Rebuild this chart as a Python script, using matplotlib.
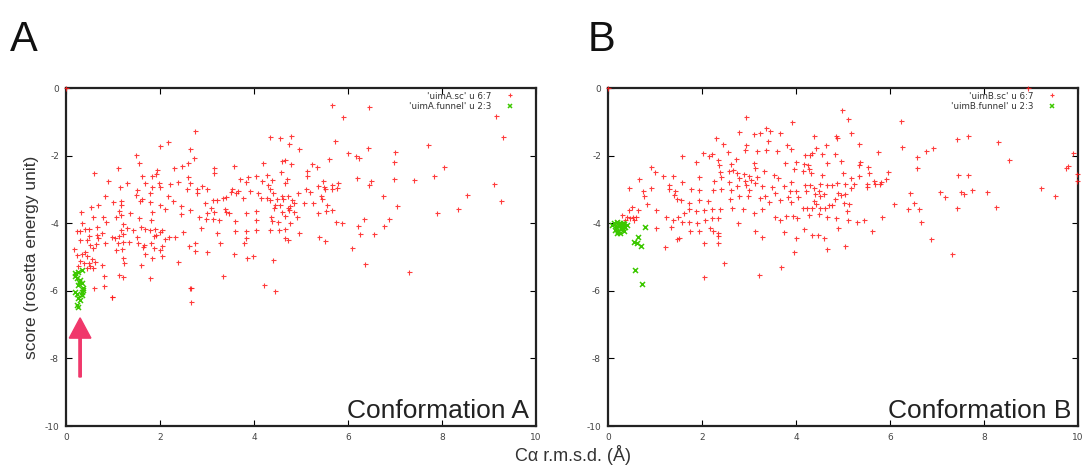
import matplotlib
matplotlib.use("Agg")
import matplotlib.pyplot as plt
from matplotlib.patches import FancyArrow

plt.rcParams["axes.unicode_minus"] = False

# ---------------- Panel A data ----------------
a_sc_x = [0.0,
    2.75, 2.01, 2.18, 2.63, 2.72, 1.49, 1.55, 2.60, 2.47, 2.29, 3.14, 3.14, 3.57, 1.10, 0.59, 0.89,
    1.61, 1.94, 1.83, 1.91, 1.97, 1.69, 1.30, 1.14, 2.60, 2.38, 2.63, 2.57, 2.21, 2.01, 1.83, 2.89,
    2.79, 3.01, 2.79, 3.87, 4.05, 3.71, 3.83, 3.92, 3.67, 3.62, 3.52, 3.41, 3.33, 3.21, 3.13, 2.96,
    3.53, 4.14, 3.77, 4.09, 0.82, 1.01, 1.18, 1.16, 1.50, 1.49, 1.58, 1.62, 1.79, 1.78, 2.18, 2.28,
    2.01, 2.11, 2.45, 2.63, 0.68, 0.53, 0.31, 0.57, 0.78, 0.85, 1.12, 1.06, 1.17, 1.37, 1.56, 1.82,
    1.80, 2.44, 2.84, 2.99, 2.98, 3.09, 3.14, 3.13, 3.25, 3.38, 3.40, 3.46, 3.60, 3.82, 4.04, 4.05,
    0.34, 0.40, 0.24, 0.29, 0.48, 0.66, 0.67, 0.48, 1.16, 1.21, 1.30, 1.43, 1.60, 1.69, 1.79, 1.89,
    2.01, 2.04, 1.92, 1.87, 2.11, 2.20, 2.31, 2.49, 2.87, 3.21, 3.27, 3.60, 3.82, 4.05, 3.82, 3.78,
    0.30, 0.45, 0.52, 0.57, 0.68, 0.77, 0.64, 0.84, 0.98, 1.05, 1.13, 1.21, 1.10, 1.06, 1.21, 1.19,
    1.35, 1.51, 1.53, 1.66, 1.63, 1.80, 1.87, 2.04, 1.99, 2.04, 1.82, 1.69, 2.38, 2.61, 2.74, 2.75,
    3.00, 3.57, 3.85, 3.98, 0.16, 0.23, 0.34, 0.40, 0.45, 0.30, 0.38, 0.48, 0.55, 0.62, 0.77, 0.26,
    0.45, 0.52, 0.57, 0.80, 1.21, 1.23, 1.60, 1.13, 1.21, 1.79, 0.59, 0.80, 0.98, 3.34, 2.65, 2.67,
    5.67, 6.45, 5.89, 9.14, 9.30, 4.33, 4.55, 4.79, 4.75, 4.96, 5.72, 6.42, 5.99, 6.18, 6.24, 7.01,
    7.71, 6.98, 5.60, 4.66, 4.59, 4.79, 5.23, 5.35, 5.12, 5.13, 4.57, 4.28, 4.20, 4.71, 4.66, 4.39,
    4.18, 6.20, 6.48, 6.45, 6.98, 7.41, 7.84, 8.04, 9.10, 5.46, 5.36, 5.48, 5.52, 5.65, 5.78, 5.77,
    5.67, 5.10, 5.19, 4.93, 4.30, 4.33, 4.41, 4.27, 4.48, 4.59, 4.62, 4.73, 4.34, 4.80, 4.86, 5.07,
    5.26, 5.43, 5.44, 5.55, 5.53, 5.65, 5.37, 6.75, 8.54, 9.26, 7.04, 8.33, 7.90, 4.72, 4.75, 4.77,
    4.45, 4.43, 4.55, 4.86, 4.91, 4.59, 4.36, 4.38, 4.52, 4.65, 4.77, 4.54, 4.34, 4.66, 4.96, 4.73,
    4.67, 5.39, 5.52, 5.74, 5.88, 6.35, 6.22, 6.26, 6.56, 6.77, 6.87, 6.09, 4.41, 6.36, 7.30,
    4.22, 4.45, 2.64, 0.97]
a_sc_y = [0.0,
    -1.26, -1.72, -1.61, -1.81, -2.06, -1.98, -2.21, -2.23, -2.30, -2.37, -2.36, -2.50, -2.30, -2.36, -2.50, -2.74,
    -2.59, -2.43, -2.59, -2.54, -2.80, -2.80, -2.82, -2.92, -2.62, -2.79, -2.82, -2.99, -2.84, -2.92, -2.94, -2.89,
    -2.99, -2.99, -3.10, -2.62, -2.59, -2.70, -2.77, -3.05, -3.04, -3.10, -3.07, -3.22, -3.26, -3.31, -3.31, -3.41,
    -3.00, -3.26, -3.26, -3.10, -3.20, -3.36, -3.33, -3.46, -3.02, -3.17, -3.33, -3.29, -3.12, -3.36, -3.20, -3.35,
    -3.46, -3.59, -3.49, -3.61, -3.46, -3.51, -3.68, -3.82, -3.83, -3.95, -3.64, -3.81, -3.75, -3.71, -3.84, -3.68,
    -3.91, -3.74, -3.81, -3.71, -3.89, -3.55, -3.66, -3.89, -3.91, -3.58, -3.66, -3.71, -3.93, -3.70, -3.64, -3.91,
    -3.98, -4.17, -4.22, -4.22, -4.16, -4.12, -4.35, -4.38, -4.20, -4.03, -4.13, -4.21, -4.10, -4.17, -4.20, -4.18,
    -4.25, -4.20, -4.35, -4.38, -4.48, -4.42, -4.42, -4.25, -4.13, -4.30, -4.60, -4.23, -4.22, -4.20, -4.45, -4.60,
    -4.50, -4.50, -4.64, -4.74, -4.45, -4.30, -4.62, -4.58, -4.42, -4.45, -4.38, -4.32, -4.60, -4.79, -4.55, -4.76,
    -4.55, -4.40, -4.60, -4.64, -4.71, -4.60, -4.74, -4.67, -4.79, -4.97, -5.02, -4.91, -5.15, -4.66, -4.60, -4.81,
    -4.86, -4.92, -5.04, -4.97, -4.77, -4.94, -4.91, -4.84, -4.97, -5.12, -5.17, -5.19, -5.07, -5.14, -5.24, -5.27,
    -5.32, -5.27, -5.34, -5.55, -5.02, -5.19, -5.24, -5.53, -5.58, -5.61, -5.91, -5.86, -6.17, -5.55, -5.91, -6.34,
    -0.50, -0.55, -0.87, -0.83, -1.44, -1.44, -1.47, -1.41, -1.66, -1.79, -1.56, -1.77, -1.93, -2.00, -2.06, -1.90,
    -1.69, -2.20, -2.11, -2.13, -2.15, -2.25, -2.25, -2.33, -2.46, -2.60, -2.48, -2.57, -2.21, -2.68, -2.82, -2.72,
    -2.74, -2.67, -2.74, -2.87, -2.69, -2.72, -2.59, -2.35, -2.84, -2.75, -2.89, -2.94, -2.99, -2.87, -2.82, -2.97,
    -3.00, -3.00, -3.07, -3.12, -2.87, -3.00, -3.12, -3.26, -3.28, -3.20, -3.29, -3.21, -3.31, -3.31, -3.41, -3.39,
    -3.39, -3.21, -3.29, -3.46, -3.63, -3.61, -3.69, -3.21, -3.17, -3.33, -3.49, -3.59, -3.71, -3.56, -3.61, -3.49,
    -3.46, -3.56, -3.46, -3.66, -3.81, -3.66, -3.81, -3.93, -3.95, -3.79, -3.98, -4.20, -4.20, -4.18, -4.28, -4.50,
    -4.43, -4.40, -4.52, -3.95, -3.98, -3.87, -4.08, -4.32, -4.32, -4.08, -3.88, -4.74, -5.09, -5.21, -5.43,
    -5.83, -6.00, -5.93, -6.17]

a_funnel_x = [0.19, 0.26, 0.33, 0.23, 0.30, 0.26, 0.33, 0.37, 0.19, 0.23, 0.33, 0.37, 0.26, 0.30,
              0.23, 0.26, 0.20, 0.28, 0.35]
a_funnel_y = [-5.48, -5.43, -5.38, -5.63, -5.68, -5.83, -5.78, -5.93, -6.03, -6.08, -6.03, -5.98,
              -6.22, -6.27, -6.42, -6.47, -5.55, -5.75, -6.12]

# ---------------- Panel B data ----------------
b_sc_x = [0.0,
    2.94, 3.91, 2.78, 3.10, 3.24, 3.37, 3.45, 3.65, 2.30, 2.45, 2.55, 2.91, 2.94, 3.16, 3.36, 3.60,
    3.81, 3.89, 3.40, 1.57, 1.88, 2.02, 2.14, 2.21, 2.35, 2.37, 2.73, 2.39, 2.62, 3.10, 3.13, 3.31,
    3.54, 3.61, 3.77, 3.99, 3.96, 0.92, 0.99, 0.65, 1.18, 1.38, 1.57, 1.94, 2.26, 2.41, 2.57, 2.67,
    2.74, 2.78, 2.89, 2.99, 3.17, 2.92, 3.05, 2.57, 0.44, 0.74, 0.92, 1.29, 1.29, 1.42, 1.77, 1.93,
    2.23, 2.41, 2.62, 2.74, 2.94, 2.99, 3.13, 3.28, 3.49, 3.56, 3.74, 3.90, 3.87, 3.99, 0.76, 1.40,
    1.47, 1.56, 1.72, 1.93, 2.13, 2.59, 2.78, 2.97, 3.23, 3.35, 3.42, 3.67, 3.83, 3.89, 4.04, 0.50,
    0.44, 0.64, 0.60, 0.53, 0.83, 1.02, 1.23, 1.38, 1.49, 1.61, 1.73, 1.87, 2.04, 2.21, 2.39, 2.64,
    2.87, 3.28, 3.10, 3.56, 3.65, 3.79, 3.93, 4.02, 0.46, 0.40, 1.03, 1.35, 1.57, 1.72, 1.89, 2.07,
    2.21, 2.35, 2.76, 1.75, 1.93, 2.16, 2.23, 2.33, 2.35, 3.12, 3.74, 1.52, 1.47, 1.22, 2.04, 2.35,
    3.28, 4.01, 3.95, 2.46, 3.68, 3.21, 2.05, 0.30, 0.22, 0.36, 0.55, 0.15,
    4.97, 5.10, 6.23, 8.94, 7.42, 7.67, 8.30, 4.39, 4.85, 4.87, 5.17, 4.42, 4.63, 5.34, 6.25, 6.91,
    6.77, 6.57, 6.58, 8.54, 9.90, 9.79, 9.74, 9.98, 9.97, 4.19, 4.30, 4.35, 4.55, 4.82, 4.95, 4.65,
    5.36, 5.33, 5.75, 5.54, 5.96, 4.17, 4.26, 4.28, 4.14, 4.31, 4.99, 4.55, 5.56, 5.35, 5.18, 5.81,
    5.91, 5.79, 5.68, 5.66, 5.50, 5.50, 5.24, 5.18, 5.04, 4.88, 4.76, 4.65, 4.52, 4.30, 4.19, 4.21,
    4.38, 4.48, 4.40, 4.51, 4.60, 4.89, 4.96, 5.04, 5.13, 5.03, 4.83, 4.71, 4.76, 4.39, 4.43, 4.51,
    4.62, 4.23, 4.14, 4.35, 4.28, 4.48, 4.65, 4.86, 5.09, 5.10, 5.29, 5.45, 5.62, 5.82, 4.89, 4.33,
    4.46, 4.60, 4.16, 5.04, 4.67, 6.43, 6.09, 6.51, 6.39, 6.62, 6.65, 6.87, 7.06, 7.17, 7.45, 7.67,
    7.52, 7.58, 7.74, 8.07, 7.42, 8.26, 9.22, 9.52, 7.31]
b_sc_y = [0.0,
    -0.87, -1.02, -1.29, -1.37, -1.32, -1.19, -1.27, -1.32, -1.47, -1.67, -1.88, -1.83, -1.69, -1.85, -1.83, -1.86,
    -1.69, -1.81, -1.56, -2.01, -2.20, -1.93, -2.01, -1.96, -2.13, -2.28, -2.11, -2.48, -2.25, -2.23, -2.36, -2.46,
    -2.57, -2.67, -2.23, -2.18, -2.41, -2.33, -2.48, -2.69, -2.60, -2.59, -2.77, -2.62, -2.75, -2.62, -2.45, -2.43,
    -2.52, -2.65, -2.55, -2.60, -2.62, -2.75, -2.72, -2.77, -2.95, -3.05, -2.95, -2.87, -3.00, -3.05, -2.99, -3.02,
    -3.02, -2.99, -3.02, -2.90, -2.87, -3.02, -2.82, -2.90, -2.94, -3.10, -2.90, -2.79, -3.05, -3.05, -3.20, -3.17,
    -3.29, -3.31, -3.41, -3.31, -3.34, -3.29, -3.20, -3.21, -3.26, -3.20, -3.36, -3.31, -3.23, -3.36, -3.23, -3.53,
    -3.61, -3.61, -3.81, -3.83, -3.44, -3.61, -3.81, -3.91, -3.81, -3.71, -3.59, -3.64, -3.61, -3.58, -3.59, -3.56,
    -3.58, -3.59, -3.71, -3.81, -3.91, -3.79, -3.79, -3.85, -3.85, -3.83, -4.13, -4.10, -3.95, -3.95, -4.00, -3.91,
    -3.84, -3.86, -3.98, -4.22, -4.22, -4.13, -4.22, -4.30, -4.38, -4.23, -4.25, -4.43, -4.48, -4.69, -4.60, -4.60,
    -4.40, -4.45, -4.84, -5.17, -5.29, -5.53, -5.58, -3.75, -3.95, -3.90, -3.90, -3.98,
    -0.65, -0.93, -0.98, 0.0, -1.52, -1.41, -1.61, -1.42, -1.42, -1.49, -1.34, -1.77, -1.69, -1.67, -1.74, -1.77,
    -1.85, -2.05, -2.36, -2.13, -1.93, -2.31, -2.38, -2.55, -2.75, -1.98, -1.98, -1.93, -1.96, -1.95, -2.16, -2.23,
    -2.20, -2.28, -1.88, -2.33, -2.48, -2.26, -2.28, -2.41, -2.46, -2.50, -2.50, -2.57, -2.52, -2.59, -2.65, -2.77,
    -2.70, -2.85, -2.85, -2.75, -2.85, -2.92, -2.83, -2.97, -2.85, -2.82, -2.87, -2.87, -2.85, -2.87, -2.87, -3.05,
    -2.97, -3.05, -3.15, -3.20, -3.15, -3.12, -3.17, -3.15, -3.44, -3.41, -3.29, -3.46, -3.46, -3.34, -3.44, -3.56,
    -3.54, -3.56, -3.54, -3.56, -3.76, -3.74, -3.81, -3.84, -3.64, -3.91, -3.95, -3.91, -4.23, -3.82, -4.15, -4.35,
    -4.35, -4.45, -4.18, -4.66, -4.77, -3.12, -3.43, -3.41, -3.58, -3.58, -3.95, -4.47, -3.07, -3.23, -2.57, -2.57,
    -3.09, -3.14, -3.02, -3.09, -3.56, -3.51, -2.97, -3.21, -4.92]

b_funnel_x = [0.12, 0.19, 0.26, 0.33, 0.16, 0.23, 0.30, 0.37, 0.14, 0.21, 0.28, 0.35, 0.19, 0.26,
              0.09, 0.40, 0.31, 0.79, 0.64, 0.55, 0.70, 0.58, 0.72, 0.61]
b_funnel_y = [-4.00, -3.95, -3.98, -4.02, -4.10, -4.08, -4.12, -4.10, -4.20, -4.22, -4.18, -4.22,
              -4.28, -4.30, -4.05, -4.05, -4.00, -4.10, -4.42, -4.57, -4.66, -5.38, -5.81, -4.60]

x_ticks = [0, 2, 4, 6, 8, 10]
y_ticks = [0, -2, -4, -6, -8, -10]

RED = "#ff1a1a"
GREEN = "#3cc800"
LABEL_FONT = ["Liberation Sans", "DejaVu Sans"]

fig = plt.figure(figsize=(10.89, 4.68), dpi=100)
axA = fig.add_axes([66/1089, 42/468, 470/1089, 338/468])
axB = fig.add_axes([608/1089, 42/468, 470/1089, 338/468])


def style(ax, sc_x, sc_y, fx, fy, name):
    ax.plot(sc_x, sc_y, linestyle="none", marker="+", markersize=3.6, markeredgewidth=0.8,
            color=RED, alpha=0.85, label="'%s.sc' u 6:7" % name, clip_on=False, zorder=3)
    ax.plot(fx, fy, linestyle="none", marker="x", markersize=3.6, markeredgewidth=1.1,
            color=GREEN, label="'%s.funnel' u 2:3" % name, zorder=4)
    ax.set_xlim(0, 10)
    ax.set_ylim(-10, 0)
    ax.set_xticks(x_ticks)
    ax.set_yticks(y_ticks)
    ax.tick_params(direction="in", top=True, right=True, length=4, width=0.8,
                   labelsize=6.5, labelcolor="#444444", pad=5)
    for s in ax.spines.values():
        s.set_linewidth(1.6)
        s.set_color("#222222")
    leg = ax.legend(loc="upper right", bbox_to_anchor=(0.965, 1.005), frameon=False,
                    markerfirst=False, fontsize=6.3, handletextpad=1.6, labelspacing=0.15,
                    borderaxespad=0.2, handlelength=1.0, markerscale=0.9)
    for t in leg.get_texts():
        t.set_color("#333333")


style(axA, a_sc_x, a_sc_y, a_funnel_x, a_funnel_y, "uimA")
style(axB, b_sc_x, b_sc_y, b_funnel_x, b_funnel_y, "uimB")

axA.text(9.85, -9.55, "Conformation A", ha="right", va="center", fontsize=19,
         color="#222222", family=LABEL_FONT)
axB.text(9.85, -9.55, "Conformation B", ha="right", va="center", fontsize=19,
         color="#222222", family=LABEL_FONT)

# pink arrow pointing at the funnel in panel A
axA.add_patch(FancyArrow(0.30, -8.55, 0, 1.75, width=0.05, head_width=0.46, head_length=0.6,
                         length_includes_head=True, color="#f0386b", zorder=5))

axA.set_ylabel("score (rosetta energy unit)", fontsize=12.5, color="#333333", labelpad=4,
               family=LABEL_FONT)
fig.text(573/1089, 1 - 455/468, "C\u03b1 r.m.s.d. (\u00c5)", ha="center", va="center",
         fontsize=13, color="#333333", family=LABEL_FONT)

fig.text(10/1089, 1 - 40/468, "A", fontsize=30, ha="left", va="center", color="#111111",
         family=LABEL_FONT)
fig.text(588/1089, 1 - 40/468, "B", fontsize=30, ha="left", va="center", color="#111111",
         family=LABEL_FONT)

fig.savefig("out.png", dpi=100)
